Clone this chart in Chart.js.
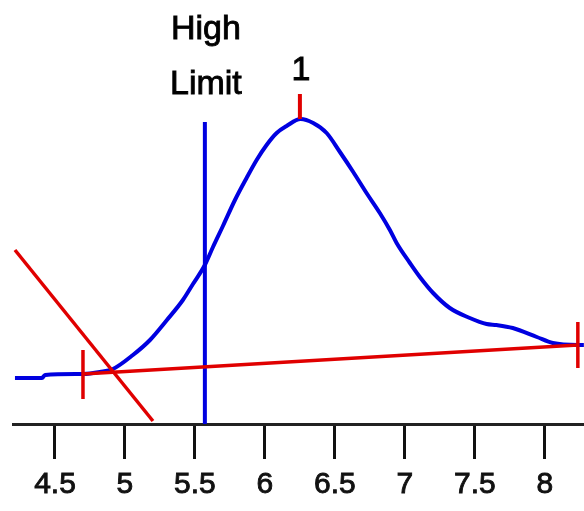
<!DOCTYPE html>
<html>
<head>
<meta charset="utf-8">
<script src="https://cdn.jsdelivr.net/npm/chart.js@4.4.1/dist/chart.umd.min.js"></script>
<style>
  html, body { margin: 0; padding: 0; background: #ffffff; }
  #wrap { width: 584px; height: 511px; position: relative; }
</style>
</head>
<body>
<div id="wrap"><canvas id="c"></canvas></div>
<script>
// ---- data ----
const tickValues = [4.5, 5, 5.5, 6, 6.5, 7, 7.5, 8];
const tickLabels = ['4.5', '5', '5.5', '6', '6.5', '7', '7.5', '8'];

const curveX = [4.214, 4.407, 4.429, 4.70, 4.821, 4.914, 5.057, 5.179, 5.30, 5.414, 5.486, 5.571, 5.629, 5.70, 5.786, 5.869, 5.941, 6.012, 6.084, 6.155, 6.255, 6.345, 6.441, 6.536, 6.631, 6.726, 6.821, 6.893, 6.941, 7.036, 7.107, 7.202, 7.321, 7.464, 7.584, 7.655, 7.771, 7.943, 8.057, 8.236, 8.279];
const curveY = [0.46, 0.46, 0.49, 0.50, 0.52, 0.55, 0.69, 0.84, 1.04, 1.24, 1.40, 1.59, 1.77, 1.98, 2.24, 2.46, 2.64, 2.79, 2.91, 2.98, 3.05, 3.01, 2.91, 2.72, 2.52, 2.31, 2.11, 1.94, 1.81, 1.61, 1.47, 1.31, 1.16, 1.06, 1.00, 0.99, 0.96, 0.87, 0.81, 0.79, 0.79];

const highLimitX = 5.571;
const highLimitY = [0, 3.02];
const highLimitLabel = ['High', 'Limit'];

const peakX = 6.25;
const peakTickY = [3.05, 3.30];
const peakLabel = '1';

const diagX = [4.214, 5.20];
const diagY = [1.74, 0.03];

const baseX = [4.70, 8.236];
const baseY = [0.50, 0.79];
const baseLeftTickY = [0.25, 0.74];
const baseRightTickY = [0.56, 1.02];

const xMin = 4.2, xMax = 8.28;
const yMin = 0, yMax = 4.24;

// ---- build ----
const BLUE = '#0000e0';
const RED = '#e00000';
const pts = (xs, ys) => xs.map((x, i) => ({ x: x, y: ys[i] }));
const vert = (x, ys) => ys.map(y => ({ x: x, y: y }));

const lineDs = (data, color, width, extra) => Object.assign({
  data: data, borderColor: color, backgroundColor: color, borderWidth: width,
  pointRadius: 0, fill: false, tension: 0
}, extra || {});

const textPlugin = {
  id: 'labels',
  afterDraw(chart) {
    const ctx = chart.ctx;
    const xs = chart.scales.x, ys = chart.scales.y;
    ctx.save();
    ctx.fillStyle = '#000';
    ctx.strokeStyle = '#000';
    ctx.lineWidth = 0.9;
    ctx.textAlign = 'center';
    ctx.textBaseline = 'alphabetic';
    ctx.font = '34px "Liberation Sans", Arial, sans-serif';
    const items = [
      [highLimitLabel[0], xs.getPixelForValue(highLimitX) + 1, ys.getPixelForValue(3.85)],
      [highLimitLabel[1], xs.getPixelForValue(highLimitX) + 1, ys.getPixelForValue(3.30)],
      [peakLabel, xs.getPixelForValue(peakX) + 1, ys.getPixelForValue(3.44)]
    ];
    items.forEach(([t, x, y]) => { ctx.fillText(t, x, y); ctx.strokeText(t, x, y); });
    ctx.restore();
  }
};

new Chart(document.getElementById('c'), {
  type: 'line',
  data: {
    datasets: [
      lineDs(pts(diagX, diagY), RED, 3.5),
      lineDs(pts(baseX, baseY), RED, 3.5),
      lineDs(vert(baseX[0], baseLeftTickY), RED, 3.5),
      lineDs(vert(baseX[1], baseRightTickY), RED, 3.5),
      lineDs(vert(peakX, peakTickY), RED, 4),
      lineDs(vert(highLimitX, highLimitY), BLUE, 4),
      lineDs(pts(curveX, curveY), BLUE, 4, { cubicInterpolationMode: 'monotone' })
    ]
  },
  options: {
    responsive: true,
    maintainAspectRatio: false,
    animation: false,
    events: [],
    layout: { padding: { left: 13, right: 0, top: 0, bottom: 0 } },
    plugins: { legend: { display: false }, tooltip: { enabled: false } },
    scales: {
      x: {
        type: 'linear',
        min: xMin, max: xMax,
        afterBuildTicks(scale) { scale.ticks = tickValues.map(v => ({ value: v })); },
        ticks: {
          autoSkip: false, maxRotation: 0, minRotation: 0,
          padding: 8, color: '#111',
          textStrokeColor: '#111', textStrokeWidth: 0.9,
          font: { family: '"Liberation Sans", Arial, sans-serif', size: 30, lineHeight: 1.2 },
          callback(value) { const i = tickValues.indexOf(value); return i >= 0 ? tickLabels[i] : ''; }
        },
        grid: { drawOnChartArea: false, drawTicks: true, tickLength: 35, tickWidth: 3, color: '#111', tickColor: '#111' },
        border: { display: true, color: '#222', width: 3 }
      },
      y: {
        type: 'linear', min: yMin, max: yMax, display: false
      }
    }
  },
  plugins: [textPlugin]
});
</script>
</body>
</html>
